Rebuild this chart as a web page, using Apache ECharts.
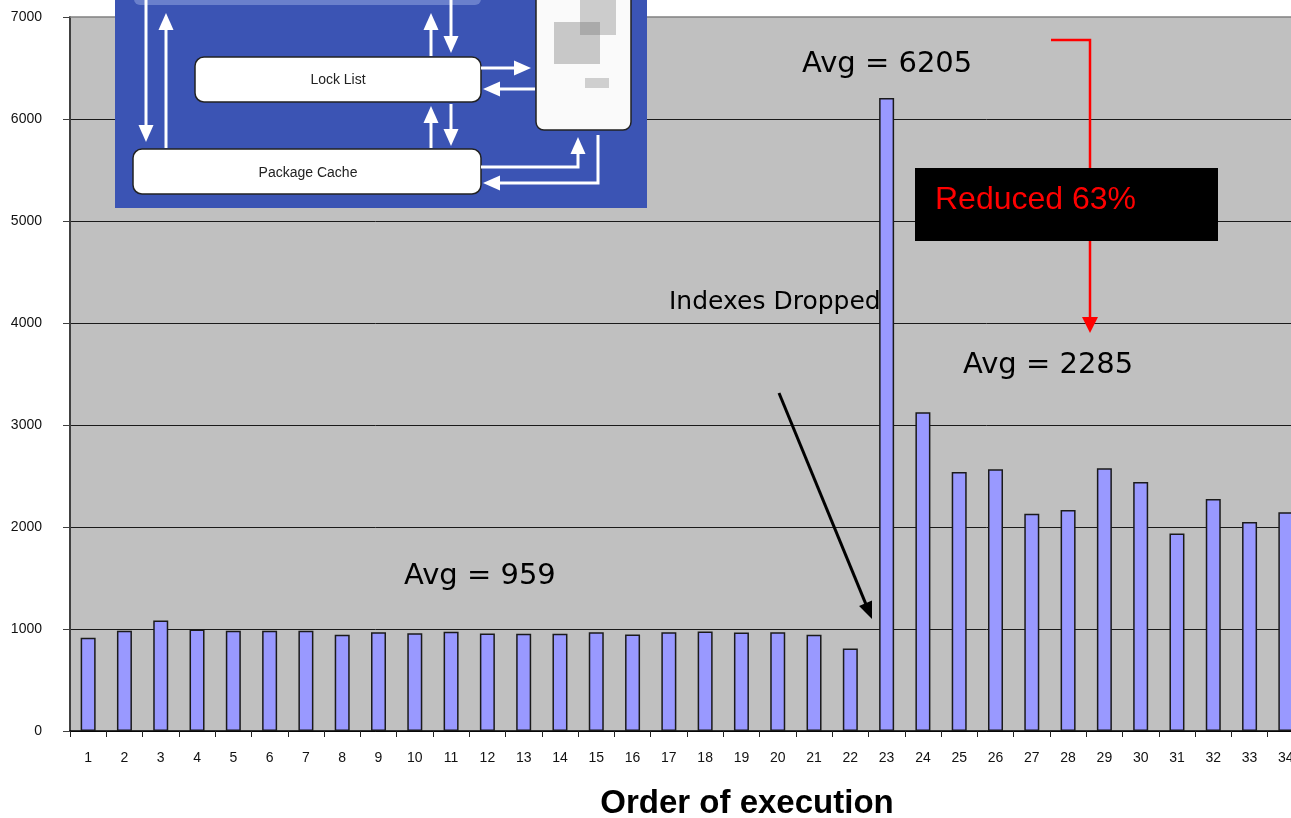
<!DOCTYPE html>
<html>
<head>
<meta charset="utf-8">
<title>Order of execution</title>
<script src="https://cdn.jsdelivr.net/npm/echarts@6/dist/echarts.min.js"></script>
<style>
html,body{margin:0;padding:0;background:#fff;}
#chart{width:1291px;height:818px;}
</style>
</head>
<body>
<div id="chart"></div>
<script>
//执行顺序
var categories = ['1','2','3','4','5','6','7','8','9','10','11','12','13','14','15','16','17',
	'18','19','20','21','22','23','24','25','26','27','28','29','30','31','32','33','34'];
//每次执行耗时
var values = [913,982,1084,995,982,982,982,943,969,959,972,955,953,953,969,946,969,
	975,966,969,943,808,6205,3125,2539,2565,2131,2167,2575,2440,1937,2275,2050,2145];
//y轴刻度
var yMin = 0;
var yMax = 7000;
var yStep = 1000;
//标注文字
var avgLabels = ['Avg = 959','Avg = 6205','Avg = 2285'];
var noteText = 'Indexes Dropped';
var reducedText = 'Reduced 63%';
var xAxisTitle = 'Order of execution';

var myChart = echarts.init(document.getElementById('chart'));

//箭头：折线 + 三角形箭头
function makeArrow(points, color, width, headLen, headHalf)
{
	var n = points.length;
	var tip = points[n-1];
	var prev = points[n-2];
	var dx = tip[0]-prev[0], dy = tip[1]-prev[1];
	var d = Math.sqrt(dx*dx+dy*dy);
	var ux = dx/d, uy = dy/d;
	var bx = tip[0]-ux*headLen, by = tip[1]-uy*headLen;
	var linePts = points.slice(0, n-1);
	linePts.push([bx+ux*2, by+uy*2]);
	return [
		{type:'polyline', shape:{points:linePts}, style:{stroke:color, lineWidth:width, fill:null}},
		{type:'polygon', shape:{points:[[tip[0],tip[1]],[bx-uy*headHalf,by+ux*headHalf],[bx+uy*headHalf,by-ux*headHalf]]}, style:{fill:color}}
	];
}

//左上角的插图（结构示意图）
function getInset()
{
	var els = [];
	var white = '#ffffff';
	els.push({type:'rect', shape:{x:115,y:0,width:532,height:208}, style:{fill:'#3b54b4'}});
	els.push({type:'rect', shape:{x:134,y:-12,width:347,height:17,r:6}, style:{fill:'#6a80cc'}});
	//右侧白色框
	els.push({type:'rect', shape:{x:536,y:-12,width:95,height:142,r:8}, style:{fill:'#fafafa',stroke:'#222',lineWidth:1.5}});
	els.push({type:'rect', shape:{x:580,y:0,width:36,height:35}, style:{fill:'#cccccc'}});
	els.push({type:'rect', shape:{x:554,y:22,width:46,height:42}, style:{fill:'#c8c8c8'}});
	els.push({type:'rect', shape:{x:580,y:22,width:20,height:13}, style:{fill:'#aaaaaa'}});
	els.push({type:'rect', shape:{x:585,y:78,width:24,height:10}, style:{fill:'#cfcfcf'}});
	//Lock List / Package Cache
	els.push({type:'rect', shape:{x:195,y:57,width:286,height:45,r:9}, style:{fill:white,stroke:'#222',lineWidth:1.5}});
	els.push({type:'text', style:{text:'Lock List',x:338,y:80,font:'14px "Liberation Sans Narrow", "Liberation Sans", Arial',fill:'#222',textAlign:'center',textVerticalAlign:'middle'}});
	els.push({type:'rect', shape:{x:133,y:149,width:348,height:45,r:9}, style:{fill:white,stroke:'#222',lineWidth:1.5}});
	els.push({type:'text', style:{text:'Package Cache',x:308,y:173,font:'14px "Liberation Sans Narrow", "Liberation Sans", Arial',fill:'#222',textAlign:'center',textVerticalAlign:'middle'}});
	//白色箭头
	var arrows = [
		[[146,0],[146,142]],
		[[166,148],[166,13]],
		[[431,56],[431,13]],
		[[451,0],[451,53]],
		[[431,148],[431,106]],
		[[451,104],[451,146]],
		[[481,68],[531,68]],
		[[535,89],[483,89]],
		[[481,167],[578,167],[578,137]],
		[[598,135],[598,183],[483,183]]
	];
	for(var i=0;i<arrows.length;i++)
	{
		els = els.concat(makeArrow(arrows[i], white, 3, 17, 7.5));
	}
	return els;
}

//图上的标注
function getNotes()
{
	var els = [];
	var avgFont = '29px "DejaVu Sans", sans-serif';
	els.push({type:'text', style:{text:avgLabels[0],x:404,y:576,font:avgFont,fill:'#000',textVerticalAlign:'middle'}});
	els.push({type:'text', style:{text:avgLabels[1],x:802,y:64,font:avgFont,fill:'#000',textVerticalAlign:'middle'}});
	els.push({type:'text', style:{text:avgLabels[2],x:963,y:365,font:avgFont,fill:'#000',textVerticalAlign:'middle'}});
	els.push({type:'text', style:{text:noteText,x:669,y:302,font:'25px "DejaVu Sans", sans-serif',fill:'#000',textVerticalAlign:'middle'}});
	//黑色箭头指向第23次执行
	els = els.concat(makeArrow([[779,393],[872,619]], '#000', 3, 17, 7));
	//红色折线箭头
	els = els.concat(makeArrow([[1051,40],[1090,40],[1090,333]], '#ff0000', 2.5, 16, 8));
	els.push({type:'rect', shape:{x:915,y:168,width:303,height:73}, style:{fill:'#000'}});
	els.push({type:'text', style:{text:reducedText,x:935,y:200,font:'32px "Liberation Sans", Arial',fill:'#ff0000',textVerticalAlign:'middle'}});
	//x轴标题
	els.push({type:'text', style:{text:xAxisTitle,x:747,y:804,font:'bold 33px "Liberation Sans", Arial',fill:'#000',textAlign:'center',textVerticalAlign:'middle'}});
	//绘图区上边框
	els.push({type:'line', shape:{x1:70,y1:17,x2:1291,y2:17}, style:{stroke:'#808080',lineWidth:1.5}});
	return els;
}

var graphics = getNotes().concat(getInset());
for(var i=0;i<graphics.length;i++)
{
	graphics[i].z = 100 + i;
}

var option = {
	animation: false,
	backgroundColor: '#ffffff',
	//绘图区比画布宽，右侧被裁掉
	grid: {
		left: 70, top: 17, width: 1234, height: 714,
		outerBoundsMode: 'none',
		show: true, backgroundColor: '#c0c0c0', borderWidth: 0
	},
	xAxis: {
		type: 'category',
		data: categories,
		axisLine: {show: true, lineStyle: {color: '#000', width: 1.5}},
		axisTick: {show: true, interval: 0, length: 6, lineStyle: {color: '#222'}},
		axisLabel: {interval: 0, margin: 20, fontSize: 14, color: '#111', fontFamily: '"Liberation Sans", Arial'},
		splitLine: {show: false}
	},
	yAxis: {
		type: 'value',
		min: yMin, max: yMax, interval: yStep,
		axisLine: {show: true, lineStyle: {color: '#404040', width: 2}},
		axisTick: {show: true, length: 7, lineStyle: {color: '#404040'}},
		axisLabel: {margin: 28, fontSize: 14, color: '#111', fontFamily: '"Liberation Sans", Arial',
			formatter: function(v){ return String(v); }},
		splitLine: {show: true, showMaxLine: false, lineStyle: {color: '#1a1a1a', width: 1}}
	},
	series: [{
		type: 'bar',
		data: values,
		barWidth: 15,
		itemStyle: {color: '#9999ff', borderColor: '#1a1a1a', borderWidth: 1.5}
	}],
	graphic: graphics
};
myChart.setOption(option);
</script>
</body>
</html>
